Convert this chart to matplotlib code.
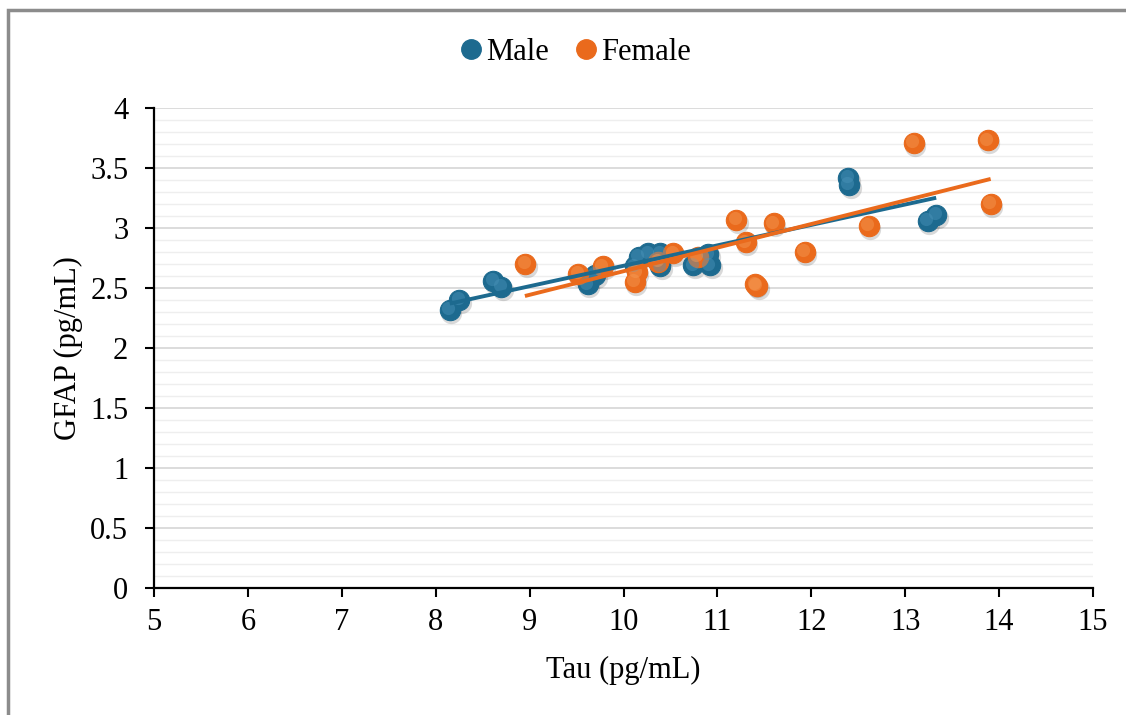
import numpy as np
import matplotlib.pyplot as plt
from matplotlib.lines import Line2D
from matplotlib.patches import Rectangle
from matplotlib.ticker import MultipleLocator, FuncFormatter
from matplotlib.transforms import offset_copy

plt.rcParams['font.family'] = ['Liberation Serif', 'DejaVu Serif']

# values
male_tau = [8.15, 8.25, 8.61, 8.70, 9.62, 9.70, 10.12, 10.16, 10.26, 10.39,
            10.39, 10.74, 10.90, 10.92, 12.39, 12.40, 13.24, 13.33]
male_gfap = [2.32, 2.40, 2.56, 2.51, 2.53, 2.61, 2.68, 2.76, 2.79, 2.79,
             2.68, 2.69, 2.78, 2.69, 3.42, 3.36, 3.06, 3.11]

female_tau = [8.95, 9.52, 9.78, 10.12, 10.14, 10.37, 10.53, 10.79, 11.20, 11.30,
              11.40, 11.42, 11.60, 11.93, 12.61, 13.09, 13.88, 13.91]
female_gfap = [2.70, 2.62, 2.68, 2.55, 2.63, 2.72, 2.79, 2.76, 3.07, 2.88,
               2.53, 2.52, 3.04, 2.80, 3.02, 3.71, 3.73, 3.20]

blue = '#1d6a8f'
blue_hi = '#4b94ba'
orange = '#ea6a1c'
orange_hi = '#f59a55'

fig = plt.figure(figsize=(11.26, 7.15), dpi=100)
ax = fig.add_axes([154 / 1126, 1 - 588 / 715, (1093 - 154) / 1126, (588 - 108) / 715])

# gray frame of the chart area
fig.patches.append(Rectangle((8 / 1126, -0.1), 1.2, 0.1 + 1 - 10 / 715,
                             transform=fig.transFigure, fill=False,
                             edgecolor='#8c8c8c', linewidth=2.5))


def balls(x, y, col, hi):
    shadow = offset_copy(ax.transData, fig=fig, x=1.2, y=-2.2, units='points')
    light = offset_copy(ax.transData, fig=fig, x=-1.0, y=1.2, units='points')
    ax.scatter(x, y, s=235, color='#000000', alpha=0.15, linewidths=0,
               transform=shadow, zorder=3)
    ax.scatter(x, y, s=215, color=col, edgecolors=col, linewidths=0.8, zorder=4)
    ax.scatter(x, y, s=90, color=hi, alpha=0.45, linewidths=0,
               transform=light, zorder=5)


balls(male_tau, male_gfap, blue, blue_hi)
balls(female_tau, female_gfap, orange, orange_hi)

# linear trendlines
for tx, gy, col in [(male_tau, male_gfap, blue), (female_tau, female_gfap, orange)]:
    k, b = np.polyfit(tx, gy, 1)
    xs = np.array([min(tx), max(tx)])
    ax.plot(xs, k * xs + b, color=col, linewidth=2.8, zorder=6,
            solid_capstyle='butt')

ax.set_xlim(5, 15)
ax.set_ylim(0, 4)
ax.xaxis.set_major_locator(MultipleLocator(1))
ax.yaxis.set_major_locator(MultipleLocator(0.5))
ax.yaxis.set_minor_locator(MultipleLocator(0.1))
ax.yaxis.set_major_formatter(FuncFormatter(lambda v, p: '%g' % v))

ax.grid(axis='y', which='major', color='#d9d9d9', linewidth=1.3, zorder=0)
ax.grid(axis='y', which='minor', color='#eeeeee', linewidth=1.0, zorder=0)
ax.set_axisbelow(True)

for s in ['top', 'right']:
    ax.spines[s].set_visible(False)
for s in ['left', 'bottom']:
    ax.spines[s].set_linewidth(1.6)
ax.tick_params(axis='both', which='major', length=6.5, width=1.5,
               labelsize=22, direction='out')
ax.tick_params(axis='x', pad=8)
ax.tick_params(axis='y', pad=12)
ax.tick_params(axis='y', which='minor', length=0)

ax.set_xlabel('Tau (pg/mL)', fontsize=22, va='center')
ax.set_ylabel('GFAP (pg/mL)', fontsize=22, va='center')
ax.xaxis.set_label_coords(0.5, (588 - 670) / 480)
ax.yaxis.set_label_coords((68 - 154) / 939, 0.5)

handles = [Line2D([], [], marker='o', linestyle='none', markersize=14,
                  color=blue, label='Male'),
           Line2D([], [], marker='o', linestyle='none', markersize=14,
                  color=orange, label='Female')]
fig.legend(handles=handles, loc='center', bbox_to_anchor=(572 / 1126, 1 - 52 / 715),
           ncol=2, frameon=False, fontsize=22, handletextpad=-0.1,
           columnspacing=0.6, handlelength=1.2)

fig.savefig('out.png', dpi=100)
